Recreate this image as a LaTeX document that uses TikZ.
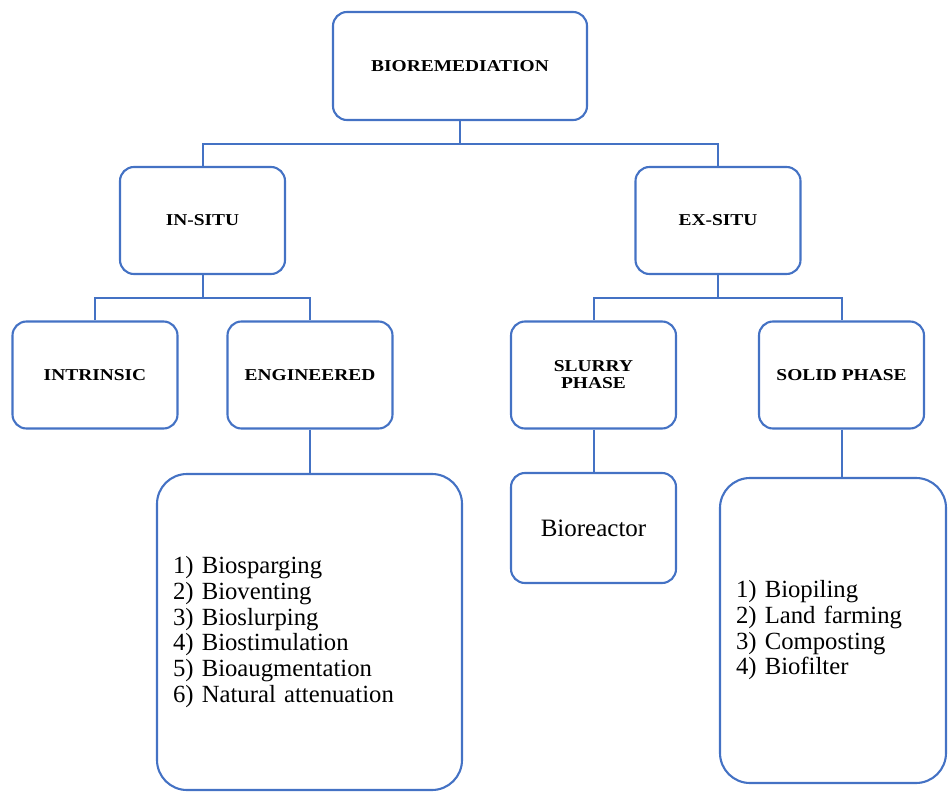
\documentclass[tikz,border=0pt]{standalone}
\usepackage{fontspec}
\setmainfont{Liberation Serif}
\newfontfamily\headfont{Liberation Serif}[FakeStretch=1.17]
\usepackage{tikz}
\usetikzlibrary{positioning, calc}
\definecolor{boxblue}{RGB}{68,114,196}

\begin{document}
\begin{tikzpicture}[
  x=1pt, y=-1pt,
  box/.style={draw=boxblue, line width=2.1pt, rounded corners=14pt,
    minimum width=165pt, minimum height=107pt, inner sep=0pt,
    align=center, font=\headfont\fontsize{16.6}{17}\selectfont\bfseries},
  listbox/.style={draw=boxblue, line width=2.1pt, rounded corners=30pt,
    inner xsep=16pt, inner ysep=0pt, align=left,
    font=\fontsize{24.7}{25.7}\selectfont},
  link/.style={draw=boxblue, line width=2pt}
]
\useasboundingbox (0,0) rectangle (948,792);

% top level
\node[box, minimum width=254pt, minimum height=108pt] (bio) at (460,66) {BIOREMEDIATION};

% second level
\node[box] (insitu) at (202.5,220.5) {IN-SITU};
\node[box] (exsitu) at (718,220.5) {EX-SITU};

% third level
\node[box] (intrinsic)  at (95,375)    {INTRINSIC};
\node[box] (engineered) at (310,375)   {ENGINEERED};
\node[box] (slurry)     at (593.5,375) {SLURRY\\PHASE};
\node[box] (solid)      at (841.5,375) {SOLID PHASE};

% techniques
\node[listbox, text width=273pt, minimum height=316pt] (inlist) at (309.5,632)
  {1) Biosparging\\2) Bioventing\\3) Bioslurping\\4) Biostimulation\\5) Bioaugmentation\\6) Natural attenuation};
\node[box, minimum height=110pt, font=\fontsize{25}{26}\selectfont] (reactor) at (593.5,528) {Bioreactor};
\node[listbox, text width=194pt, minimum height=305pt] (exlist) at (833,630.5)
  {1) Biopiling\\2) Land farming\\3) Composting\\4) Biofilter};

% connectors
\coordinate (j1) at ($(bio.south)+(0,23)$);
\draw[link] (bio.south) -- (j1) -| (insitu.north);
\draw[link] (j1) -| (exsitu.north);

\coordinate (j2) at ($(insitu.south)+(0,23)$);
\draw[link] (insitu.south) -- (j2) -| (intrinsic.north);
\draw[link] (j2) -| (engineered.north);

\coordinate (j3) at ($(exsitu.south)+(0,23)$);
\draw[link] (exsitu.south) -- (j3) -| (slurry.north);
\draw[link] (j3) -| (solid.north);

\draw[link] (engineered.south) -- (engineered.south |- inlist.north);
\draw[link] (slurry.south) -- (reactor.north);
\draw[link] (solid.south) -- (solid.south |- exlist.north);
\end{tikzpicture}
\end{document}
